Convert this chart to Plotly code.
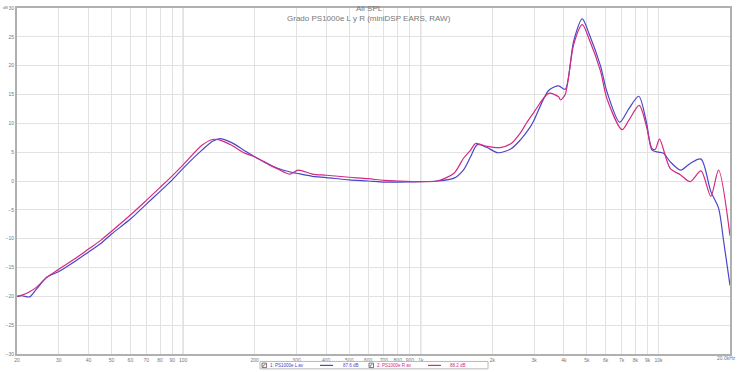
import plotly.graph_objects as go

# ---- data ----
freq_L = [20, 21, 22.6, 24.2, 26.7, 30, 35, 40, 45, 50, 60, 70, 80, 90, 100, 120, 133, 143, 160, 180,
          200, 230, 250, 280, 300, 350, 400, 500, 600, 700, 800, 1000, 1170, 1380, 1510, 1620, 1730,
          1900, 2110, 2400, 2620, 2880, 3000, 3450, 3800, 4050, 4400, 4780, 5120, 5700, 6080, 6870,
          7500, 8260, 8900, 9400, 10000, 10500, 11200, 12400, 13600, 15100, 16600, 17900, 18800, 20000]
spl_L = [-20, -19.9, -20.1, -18.7, -16.7, -15.7, -13.95, -12.3, -10.85, -9.2, -6.6, -4.0, -1.8, 0.2,
         2.2, 5.35, 6.9, 7.35, 6.65, 5.35, 4.2, 2.9, 2.2, 1.6, 1.35, 0.8, 0.6, 0.2, 0.0, -0.2, -0.2,
         -0.1, 0.0, 0.5, 1.9, 4.2, 6.3, 5.8, 4.9, 5.6, 7.1, 9.3, 10.6, 15.7, 16.5, 15.9, 24.3, 28.1,
         25.4, 20.0, 15.4, 10.2, 12.5, 14.7, 10.2, 5.35, 5.0, 4.8, 3.35, 1.9, 3.05, 3.8, -1.8, -4.7,
         -10.4, -18.1]

freq_R = [20, 21, 22.6, 24.2, 26.7, 30, 35, 40, 45, 50, 60, 70, 80, 90, 100, 120, 133, 143, 160, 180,
          200, 230, 250, 282, 305, 350, 400, 500, 600, 700, 800, 1000, 1170, 1380, 1510, 1620, 1700,
          1900, 2160, 2400, 2620, 2800, 3000, 3450, 3800, 3870, 4050, 4400, 4780, 5120, 5700, 6080,
          7030, 7500, 8300, 8900, 9400, 9700, 10100, 11200, 12400, 13600, 15100, 16600, 17900, 20000]
spl_R = [-20, -19.8, -19.2, -18.4, -16.7, -15.3, -13.5, -11.8, -10.3, -8.7, -5.9, -3.35, -1.1, 0.9,
         2.8, 6.2, 7.2, 7.1, 6.2, 4.9, 4.2, 2.8, 2.1, 1.2, 1.9, 1.2, 1.0, 0.65, 0.4, 0.1, 0.0, -0.1,
         0.0, 1.35, 3.9, 5.35, 6.5, 6.0, 5.8, 6.5, 8.3, 10.2, 12.0, 15.2, 14.6, 14.05, 15.0, 23.7,
         27.1, 24.5, 19.1, 14.2, 8.9, 10.5, 13.1, 9.5, 5.6, 5.5, 7.25, 2.2, 1.05, -0.1, 1.75, -2.65,
         1.9, -9.5]

x_tickvals = [20, 30, 40, 50, 60, 70, 80, 90, 100, 200, 300, 400, 500, 600, 700, 800, 900, 1000,
              2000, 3000, 4000, 5000, 6000, 7000, 8000, 9000, 10000, 20000]
x_ticktext = ["20", "30", "40", "50", "60", "70", "80", "90", "100", "200", "300", "400", "500",
              "600", "700", "800", "900", "1k", "2k", "3k", "4k", "5k", "6k", "7k", "8k", "9k",
              "10k", ""]
x_end_label = "20.0kHz"
y_tickvals = [-30, -25, -20, -15, -10, -5, 0, 5, 10, 15, 20, 25, 30]

title_1 = "All SPL"
title_2 = "Grado PS1000e L y R (miniDSP EARS, RAW)"
y_unit = "dB"
series_names = ["1: PS1000e L av", "2: PS1000e R av"]
series_levels = ["87.6 dB", "88.2 dB"]
colors = ["#4a46c8", "#d42a80"]

# ---- figure ----
W, H = 739, 372
ML, MR, MT, MB = 17, 9, 5, 18
PW, PH = W - ML - MR, H - MT - MB
FONT = "Liberation Sans"

fig = go.Figure()
fig.add_trace(go.Scatter(x=freq_L, y=spl_L, mode="lines", name=series_names[0],
                         line=dict(color=colors[0], width=1.2, shape="spline", smoothing=0.8)))
fig.add_trace(go.Scatter(x=freq_R, y=spl_R, mode="lines", name=series_names[1],
                         line=dict(color=colors[1], width=1.2, shape="spline", smoothing=0.8)))

shapes = []
# decade grid lines darker
for d in [100, 1000, 10000]:
    shapes.append(dict(type="line", xref="x", yref="paper", x0=d, x1=d, y0=0, y1=1,
                       line=dict(color="#c4c4c4", width=1), layer="below"))

fig.update_xaxes(type="log", range=[1.30103, 4.30103], tickvals=x_tickvals, ticktext=x_ticktext,
                 showgrid=True, gridcolor="#e2e2e2", gridwidth=1, zeroline=False,
                 showline=True, linecolor="#b0b0b0", linewidth=2, mirror=True,
                 ticks="", tickfont=dict(size=5, color="#777", family=FONT))
fig.update_yaxes(range=[-30, 30], tickvals=y_tickvals, showgrid=True, gridcolor="#e2e2e2",
                 gridwidth=1, zeroline=False, showline=True, linecolor="#b0b0b0", linewidth=2,
                 mirror=True, ticks="", tickfont=dict(size=5, color="#777", family=FONT))


def px(x):
    return (x - ML) / PW


def py(y):
    return (H - MB - y) / PH


ann = []
ann.append(dict(text=title_1, x=px(369), y=py(5.5), xref="paper", yref="paper", showarrow=False,
                font=dict(size=8, color="#777", family=FONT), xanchor="center", yanchor="middle"))
ann.append(dict(text=title_2, x=px(369), y=py(16), xref="paper", yref="paper", showarrow=False,
                font=dict(size=8, color="#777", family=FONT), xanchor="center", yanchor="middle"))
ann.append(dict(text=y_unit, x=px(5), y=py(0), xref="paper", yref="paper", showarrow=False,
                font=dict(size=4, color="#777", family=FONT), xanchor="center", yanchor="top"))
ann.append(dict(text=x_end_label, x=px(738), y=py(358.5), xref="paper", yref="paper",
                showarrow=False, font=dict(size=5, color="#777", family=FONT), xanchor="right",
                yanchor="middle"))

# legend box
shapes.append(dict(type="rect", xref="paper", yref="paper", x0=px(260), x1=px(488),
                   y0=py(369), y1=py(361.5), line=dict(color="#b8b8b8", width=1),
                   fillcolor="white"))
leg = [(262, 268, 320, 333, 341), (369, 375, 428, 441, 448)]
for i, (cb, tx, l0, l1, lv) in enumerate(leg):
    shapes.append(dict(type="rect", xref="paper", yref="paper", x0=px(cb), x1=px(cb + 4.5),
                       y0=py(367.7), y1=py(363.2), line=dict(color="#555", width=0.8),
                       fillcolor="white"))
    ann.append(dict(text="✓", x=px(cb + 2.3), y=py(365.4), xref="paper", yref="paper",
                    showarrow=False, font=dict(size=5, color="#222"), xanchor="center",
                    yanchor="middle"))
    ann.append(dict(text=series_names[i], x=px(tx), y=py(365.5), xref="paper", yref="paper",
                    showarrow=False, font=dict(size=4.5, color=colors[i], family=FONT),
                    xanchor="left", yanchor="middle"))
    shapes.append(dict(type="line", xref="paper", yref="paper", x0=px(l0), x1=px(l1),
                       y0=py(365.5), y1=py(365.5), line=dict(color=colors[i], width=1.2)))
    ann.append(dict(text=series_levels[i], x=px(lv), y=py(365.5), xref="paper", yref="paper",
                    showarrow=False, font=dict(size=4.5, color=colors[i], family=FONT),
                    xanchor="left", yanchor="middle"))

fig.update_layout(width=W, height=H, margin=dict(l=ML, r=MR, t=MT, b=MB, pad=0),
                  paper_bgcolor="white", plot_bgcolor="white", showlegend=False,
                  annotations=ann, shapes=shapes)

fig.write_html("out.html")
